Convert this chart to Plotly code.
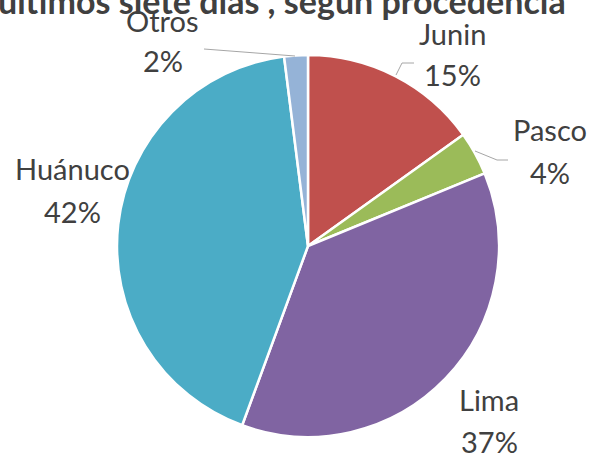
import plotly.graph_objects as go

W, H = 590, 457

title_text = "últimos siete días , según procedencia"
categories = ["Junin", "Pasco", "Lima", "Huánuco", "Otros"]
values = [15.1, 3.7, 36.8, 42.4, 2.0]
colors = ["#C0504D", "#9BBB59", "#8064A2", "#4BACC6", "#95B3D7"]

# label centres (pixels): (x, y of name line, y of percent line)
label_pos = {
    "Junin": (452, 38, 79),
    "Pasco": (550, 134, 176),
    "Lima": (489, 403, 445),
    "Huánuco": (72, 172, 215),
    "Otros": (163, 25, 65),
}
# leader lines (pixel polylines)
leaders = {
    "Junin": [(396, 75), (402, 63), (414, 63)],
    "Pasco": [(475, 151), (497, 160), (508, 160)],
    "Otros": [(295, 56), (204, 49)],
}

def px(x):
    return x / W

def py(y):
    return 1 - y / H

fig = go.Figure()
fig.add_trace(go.Pie(
    labels=categories,
    values=values,
    sort=False,
    direction="clockwise",
    rotation=0,
    marker=dict(colors=colors, line=dict(color="white", width=2.5)),
    textinfo="none",
    hoverinfo="label+percent",
    showlegend=False,
    domain=dict(x=[px(117), px(499)], y=[py(437), py(55)]),
))

total = sum(values)
label_font = dict(family="Lato", size=29, color="#404040")
annotations = []
for cat, v in zip(categories, values):
    x, y1, y2 = label_pos[cat]
    pct = round(v / total * 100)
    annotations.append(dict(
        x=px(x), y=py(y1 - 4), xref="paper", yref="paper",
        text=cat, showarrow=False,
        xanchor="center", yanchor="middle", font=label_font,
    ))
    annotations.append(dict(
        x=px(x), y=py(y2 - 4), xref="paper", yref="paper",
        text=f"{pct}%", showarrow=False,
        xanchor="center", yanchor="middle", font=label_font,
    ))

annotations.append(dict(
    x=px(282), y=py(23), xref="paper", yref="paper",
    text=f"<b>{title_text}</b>", showarrow=False,
    xanchor="center", yanchor="bottom",
    font=dict(family="Lato", size=34, color="#404040"),
))

shapes = []
for cat, pts in leaders.items():
    path = "M " + " L ".join(f"{px(x)},{py(y)}" for x, y in pts)
    shapes.append(dict(type="path", path=path, xref="paper", yref="paper",
                       line=dict(color="#A6A6A6", width=1)))

fig.update_layout(
    width=W, height=H,
    margin=dict(l=0, r=0, t=0, b=0),
    paper_bgcolor="white", plot_bgcolor="white",
    annotations=annotations,
    shapes=shapes,
)

fig.write_html("out.html", config={"displayModeBar": False},
               post_script="document.body.style.margin='0';")
